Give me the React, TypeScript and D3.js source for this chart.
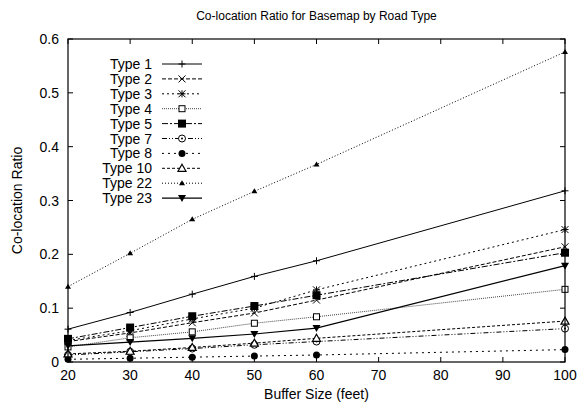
import React from 'react';
import * as d3 from 'd3';

const bufferSizes = [20, 30, 40, 50, 60, 100];

const type1 = [0.061, 0.092, 0.126, 0.159, 0.188, 0.318];
const type2 = [0.038, 0.054, 0.073, 0.091, 0.115, 0.214];
const type3 = [0.040, 0.058, 0.080, 0.100, 0.134, 0.246];
const type4 = [0.028, 0.045, 0.056, 0.072, 0.084, 0.135];
const type5 = [0.043, 0.064, 0.085, 0.104, 0.124, 0.203];
const type7 = [0.013, 0.019, 0.025, 0.032, 0.038, 0.062];
const type8 = [0.005, 0.007, 0.009, 0.011, 0.013, 0.023];
const type10 = [0.015, 0.020, 0.027, 0.035, 0.044, 0.076];
const type22 = [0.140, 0.202, 0.265, 0.317, 0.367, 0.576];
const type23 = [0.030, 0.037, 0.044, 0.052, 0.063, 0.179];

const seriesNames = ['Type 1', 'Type 2', 'Type 3', 'Type 4', 'Type 5', 'Type 7', 'Type 8', 'Type 10', 'Type 22', 'Type 23'];
const seriesValues = [type1, type2, type3, type4, type5, type7, type8, type10, type22, type23];

const xTicks = [20, 30, 40, 50, 60, 70, 80, 90, 100];
const yTicks = [0, 0.1, 0.2, 0.3, 0.4, 0.5, 0.6];

// line style + marker per series (gnuplot-like)
const styles = [
  { dash: null, marker: 'plus', stroke: '#000', width: 1 },
  { dash: '4,2', marker: 'cross', stroke: '#000', width: 1 },
  { dash: '2,3', marker: 'star', stroke: '#000', width: 1 },
  { dash: '1,1', marker: 'square', stroke: '#444', width: 1 },
  { dash: '6,2,2,2', marker: 'squareFilled', stroke: '#000', width: 1 },
  { dash: '5,2,1,2,1,2', marker: 'circleDot', stroke: '#000', width: 1 },
  { dash: '2,4', marker: 'circleFilled', stroke: '#000', width: 1 },
  { dash: '3,2', marker: 'triangle', stroke: '#000', width: 1 },
  { dash: '1,2', marker: 'triangleSmall', stroke: '#000', width: 1 },
  { dash: null, marker: 'triangleDown', stroke: '#000', width: 1.2 },
];

const W = 578;
const H = 406;
const margin = { left: 68, right: 13, top: 39, bottom: 44 };
const font = 'Liberation Sans, Arial, Helvetica, sans-serif';

const x = d3.scaleLinear().domain([20, 100]).range([margin.left, W - margin.right]);
const y = d3.scaleLinear().domain([0, 0.6]).range([H - margin.bottom, margin.top]);

function Marker({ kind, cx, cy }: { kind: string; cx: number; cy: number }) {
  const s = 3.5;
  switch (kind) {
    case 'plus':
      return <path d={`M${cx - s},${cy}H${cx + s}M${cx},${cy - s}V${cy + s}`} stroke="#000" strokeWidth={1} />;
    case 'cross':
      return <path d={`M${cx - s},${cy - s}L${cx + s},${cy + s}M${cx - s},${cy + s}L${cx + s},${cy - s}`} stroke="#000" strokeWidth={1} />;
    case 'star':
      return (
        <path
          d={`M${cx - s},${cy - s}L${cx + s},${cy + s}M${cx - s},${cy + s}L${cx + s},${cy - s}M${cx - s},${cy}H${cx + s}M${cx},${cy - s}V${cy + s}`}
          stroke="#000"
          strokeWidth={1}
        />
      );
    case 'square':
      return <rect x={cx - 3} y={cy - 3} width={6} height={6} fill="#fff" stroke="#000" strokeWidth={1} />;
    case 'squareFilled':
      return <rect x={cx - 4} y={cy - 4} width={8} height={8} fill="#000" />;
    case 'circleDot':
      return (
        <g>
          <circle cx={cx} cy={cy} r={3.5} fill="#fff" stroke="#000" strokeWidth={1} />
          <circle cx={cx} cy={cy} r={1} fill="#000" />
        </g>
      );
    case 'circleFilled':
      return <circle cx={cx} cy={cy} r={3.5} fill="#000" />;
    case 'triangle':
      return <path d={`M${cx},${cy - 4}L${cx + 4},${cy + 3}L${cx - 4},${cy + 3}Z`} fill="#fff" stroke="#000" strokeWidth={1.2} />;
    case 'triangleSmall':
      return <path d={`M${cx},${cy - 3}L${cx + 3},${cy + 2}L${cx - 3},${cy + 2}Z`} fill="#000" />;
    case 'triangleDown':
      return <path d={`M${cx - 4},${cy - 3}L${cx + 4},${cy - 3}L${cx},${cy + 4}Z`} fill="#000" />;
    default:
      return null;
  }
}

export default function App() {
  const line = d3
    .line<number>()
    .x((_, i) => x(bufferSizes[i]))
    .y((d) => y(d));

  const x0 = margin.left;
  const x1 = W - margin.right;
  const y0 = H - margin.bottom;
  const y1 = margin.top;
  const tick = 5;

  const legendTextX = 152;
  const legendLineX0 = 162;
  const legendLineX1 = 202;
  const legendY0 = 64;
  const legendStep = 14.9;

  return (
    <svg width={W} height={H} style={{ position: 'absolute', left: 0, top: 0 }} fontFamily={font}>
      <rect width={W} height={H} fill="#fff" />
      <text x={(x0 + x1) / 2} y={20} textAnchor="middle" fontSize={12}>
        Co-location Ratio for Basemap by Road Type
      </text>

      {/* ticks on all sides */}
      {xTicks.map((t) => (
        <g key={'xt' + t}>
          <line x1={x(t)} x2={x(t)} y1={y0} y2={y0 - tick} stroke="#000" />
          <line x1={x(t)} x2={x(t)} y1={y1} y2={y1 + tick} stroke="#000" />
          <text x={x(t)} y={y0 + 18} textAnchor="middle" fontSize={14}>
            {t}
          </text>
        </g>
      ))}
      {yTicks.map((t) => (
        <g key={'yt' + t}>
          <line x1={x0} x2={x0 + tick} y1={y(t)} y2={y(t)} stroke="#000" />
          <line x1={x1} x2={x1 - tick} y1={y(t)} y2={y(t)} stroke="#000" />
          <text x={x0 - 9} y={y(t) + 5} textAnchor="end" fontSize={14}>
            {t === 0 ? '0' : d3.format('.1f')(t)}
          </text>
        </g>
      ))}

      <text x={(x0 + x1) / 2} y={H - 7} textAnchor="middle" fontSize={14}>
        Buffer Size (feet)
      </text>
      <text transform={`translate(22,${(y0 + y1) / 2}) rotate(-90)`} textAnchor="middle" fontSize={14}>
        Co-location Ratio
      </text>

      {/* series */}
      {seriesValues.map((vals, si) => {
        const st = styles[si];
        return (
          <g key={seriesNames[si]}>
            <path
              d={line(vals) || ''}
              fill="none"
              stroke={st.stroke}
              strokeWidth={st.width}
              strokeDasharray={st.dash || undefined}
            />
            {vals.map((v, i) => (
              <Marker key={i} kind={st.marker} cx={x(bufferSizes[i])} cy={y(v)} />
            ))}
          </g>
        );
      })}

      {/* legend */}
      {seriesNames.map((name, si) => {
        const st = styles[si];
        const ly = legendY0 + si * legendStep;
        return (
          <g key={'lg' + name}>
            <text x={legendTextX} y={ly + 5} textAnchor="end" fontSize={14}>
              {name}
            </text>
            <line
              x1={legendLineX0}
              x2={legendLineX1}
              y1={ly}
              y2={ly}
              stroke={st.stroke}
              strokeWidth={st.width}
              strokeDasharray={st.dash || undefined}
            />
            <Marker kind={st.marker} cx={(legendLineX0 + legendLineX1) / 2} cy={ly} />
          </g>
        );
      })}

      {/* frame */}
      <rect x={x0} y={y1} width={x1 - x0} height={y0 - y1} fill="none" stroke="#000" strokeWidth={1.2} />
    </svg>
  );
}
